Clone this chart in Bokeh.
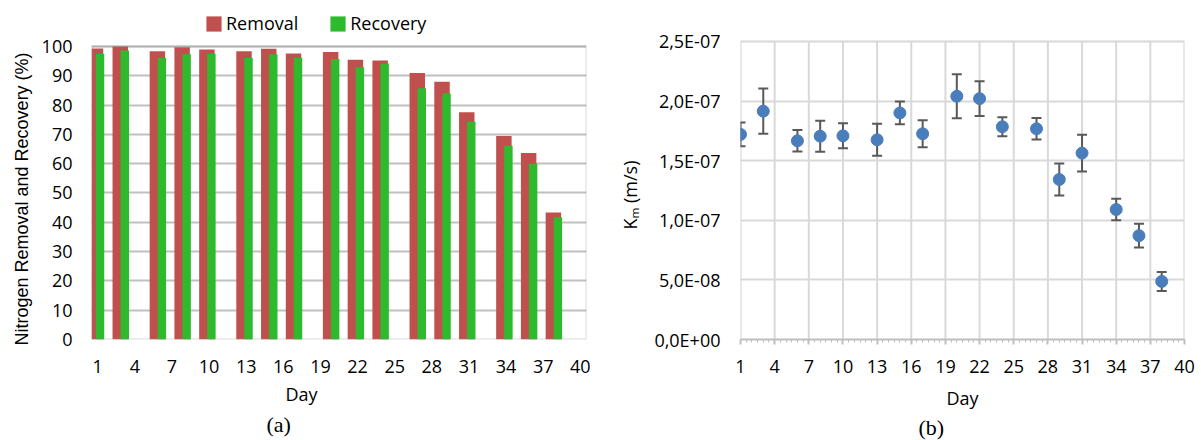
from bokeh.plotting import figure
from bokeh.layouts import row
from bokeh.models import (Range1d, FixedTicker, Legend, LegendItem, Title, BoxAnnotation,
                          ColumnDataSource, Whisker, TeeHead, CustomJSTickFormatter)
from bokeh.transform import dodge
from bokeh.embed import file_html
from bokeh.resources import INLINE

# ---------------- data ----------------
days = [1, 3, 6, 8, 10, 13, 15, 17, 20, 22, 24, 27, 29, 31, 34, 36, 38]
removal = [99.3, 100.0, 98.3, 99.7, 98.9, 98.3, 99.2, 97.6, 98.1, 95.4, 95.2,
           90.9, 87.9, 77.5, 69.4, 63.6, 43.3]
recovery = [97.4, 98.6, 96.0, 97.3, 97.5, 96.0, 97.3, 96.1, 95.7, 92.9, 94.2,
            85.7, 83.9, 74.3, 66.1, 60.0, 41.7]
km = [1.72e-7, 1.915e-7, 1.666e-7, 1.705e-7, 1.708e-7, 1.675e-7, 1.90e-7,
      1.725e-7, 2.04e-7, 2.02e-7, 1.784e-7, 1.767e-7, 1.342e-7, 1.563e-7,
      1.09e-7, 0.871e-7, 0.487e-7]
km_err = [0.10e-7, 0.19e-7, 0.09e-7, 0.13e-7, 0.105e-7, 0.135e-7, 0.095e-7,
          0.113e-7, 0.185e-7, 0.145e-7, 0.08e-7, 0.09e-7, 0.135e-7, 0.155e-7,
          0.09e-7, 0.10e-7, 0.08e-7]
day_ticks = list(range(1, 41, 3))
pct_ticks = list(range(0, 101, 10))
km_ticks = [0, 5e-8, 1e-7, 1.5e-7, 2e-7, 2.5e-7]
km_labels = ["0,0E+00", "5,0E-08", "1,0E-07", "1,5E-07", "2,0E-07", "2,5E-07"]

FONT = "Open Sans"
RED = "#c0504d"
GREEN = "#2dbb2d"
BLUE = "#4a7ebb"

# ---------------- left chart (a) ----------------
X_LO, X_HI = 0.5, 40.5
P_LO, P_HI = 0, 100
src1 = ColumnDataSource(dict(day=days, removal=removal, recovery=recovery))

# frame extends above 100 so that the legend strip sits inside it
p1 = figure(width=604, height=440, x_range=Range1d(X_LO, X_HI), y_range=Range1d(P_LO, 113.95),
            output_backend="svg", toolbar_location=None,
            min_border_left=91, min_border_right=18, min_border_top=5, min_border_bottom=100)
p1.outline_line_color = None

r_rem = p1.vbar(x=dodge("day", -0.175, range=p1.x_range), top="removal", width=1.25,
                bottom=0, source=src1, fill_color=RED, line_color=None)
r_rec = p1.vbar(x=dodge("day", 0.19, range=p1.x_range), top="recovery", width=0.68,
                bottom=0, source=src1, fill_color=GREEN, line_color=None)

p1.add_layout(BoxAnnotation(left=X_LO, right=X_HI, bottom=P_LO, top=P_HI,
                            fill_alpha=0, line_color="#898989", line_width=2))

p1.xgrid.grid_line_color = None
p1.ygrid.ticker = FixedTicker(ticks=pct_ticks)
p1.ygrid.grid_line_color = "#c0c0c0"
p1.ygrid.grid_line_width = 2

p1.xaxis.ticker = FixedTicker(ticks=day_ticks)
p1.yaxis.ticker = FixedTicker(ticks=pct_ticks)
for ax in (p1.xaxis[0], p1.yaxis[0]):
    ax.axis_line_color = None
    ax.major_tick_line_color = None
    ax.minor_tick_line_color = None
    ax.major_tick_out = 0
    ax.minor_tick_out = 0
    ax.major_label_text_font = FONT
    ax.major_label_text_font_size = "18px"
    ax.major_label_text_color = "black"
p1.xaxis.major_label_standoff = 20
p1.yaxis.major_label_standoff = 19

p1.add_layout(Title(text="Nitrogen Removal and Recovery (%)", align="left", offset=-6,
                    text_font="Liberation Sans", text_font_size="18px",
                    text_font_style="normal", text_color="black", standoff=13), "left")

legend = Legend(items=[LegendItem(label="Removal", renderers=[r_rem]),
                       LegendItem(label="Recovery", renderers=[r_rec])],
                orientation="horizontal", location=(113, 304),
                glyph_width=19, glyph_height=19, label_standoff=3, spacing=30,
                padding=0, margin=0, border_line_color=None, background_fill_alpha=0,
                label_text_font=FONT, label_text_font_size="18px", label_text_color="black")
p1.add_layout(legend)

p1.add_layout(Title(text="Day", align="left", offset=194, text_font=FONT,
                    text_font_size="18px", text_font_style="normal", text_color="black",
                    standoff=8), "below")
p1.add_layout(Title(text="(a)", align="left", offset=175, text_font="Liberation Serif",
                    text_font_size="22px", text_font_style="normal", text_color="black",
                    standoff=1), "below")

# ---------------- right chart (b) ----------------
D_LO, D_HI = 1, 40
K_LO, K_HI = 0, 2.5e-7
upper = [k + e for k, e in zip(km, km_err)]
lower = [k - e for k, e in zip(km, km_err)]
src2 = ColumnDataSource(dict(day=days, km=km, upper=upper, lower=lower))

p2 = figure(width=596, height=440, x_range=Range1d(D_LO, D_HI), y_range=Range1d(K_LO, 2.801e-7),
            output_backend="svg", toolbar_location=None,
            min_border_left=136, min_border_right=16, min_border_top=5, min_border_bottom=100)
p2.outline_line_color = None

# vertical grid lines limited to the plot area (0 .. 2.5E-07)
p2.segment(x0=day_ticks, y0=[K_LO] * len(day_ticks), x1=day_ticks, y1=[K_HI] * len(day_ticks),
           line_color="#d9d9d9", line_width=2, level="underlay")
p2.xgrid.grid_line_color = None
p2.ygrid.ticker = FixedTicker(ticks=km_ticks)
p2.ygrid.grid_line_color = "#d9d9d9"
p2.ygrid.grid_line_width = 2
p2.add_layout(BoxAnnotation(left=D_LO, right=D_HI, bottom=K_LO, top=K_HI,
                            fill_alpha=0, line_color="#d9d9d9", line_width=2, level="underlay"))

whisk = Whisker(base="day", upper="upper", lower="lower", source=src2,
                line_color="#595959", line_width=2,
                upper_head=TeeHead(size=10, line_color="#595959", line_width=2),
                lower_head=TeeHead(size=10, line_color="#595959", line_width=2))
p2.add_layout(whisk)
p2.scatter("day", "km", source=src2, size=12, fill_color=BLUE, line_color=BLUE)

minor_days = [1 + 0.5 * i for i in range(79)]
p2.xaxis.ticker = FixedTicker(ticks=day_ticks, minor_ticks=minor_days)
p2.yaxis.ticker = FixedTicker(ticks=km_ticks)

p2.yaxis.formatter = CustomJSTickFormatter(args=dict(tvals=km_ticks, tlabels=km_labels), code="""
let best = 0;
for (let i = 0; i < tvals.length; i++) {
  if (Math.abs(tvals[i] - tick) < Math.abs(tvals[best] - tick)) best = i;
}
return tlabels[best];
""")
for ax in (p2.xaxis[0], p2.yaxis[0]):
    ax.major_label_text_font = FONT
    ax.major_label_text_font_size = "18px"
    ax.major_label_text_color = "black"
    ax.axis_label_text_font = FONT
    ax.axis_label_text_font_size = "18px"
    ax.axis_label_text_font_style = "normal"
    ax.axis_label_text_color = "black"

p2.yaxis.axis_line_color = None
p2.yaxis.major_tick_line_color = None
p2.yaxis.minor_tick_line_color = None
p2.yaxis.major_tick_out = 0
p2.yaxis.minor_tick_out = 0
p2.yaxis.major_label_standoff = 20

p2.add_layout(Title(text="Kₘ (m/s)", align="left", offset=110, text_font=FONT,
                    text_font_size="18px", text_font_style="normal", text_color="black",
                    standoff=20), "left")

p2.xaxis.axis_line_color = "#bfbfbf"
p2.xaxis.axis_line_width = 2
p2.xaxis.major_tick_line_color = "#bfbfbf"
p2.xaxis.minor_tick_line_color = "#bfbfbf"
p2.xaxis.major_tick_line_width = 2
p2.xaxis.major_tick_out = 5
p2.xaxis.major_tick_in = 0
p2.xaxis.minor_tick_out = 3
p2.xaxis.minor_tick_in = 0
p2.xaxis.major_label_standoff = 15
p2.xaxis.axis_label = "Day"
p2.xaxis.axis_label_standoff = 10

p2.add_layout(Title(text="(b)", align="left", offset=178, text_font="Liberation Serif",
                    text_font_size="22px", text_font_style="normal", text_color="black",
                    standoff=1), "below")

layout = row(p1, p2)
open("out.html", "w").write(file_html(layout, INLINE))
